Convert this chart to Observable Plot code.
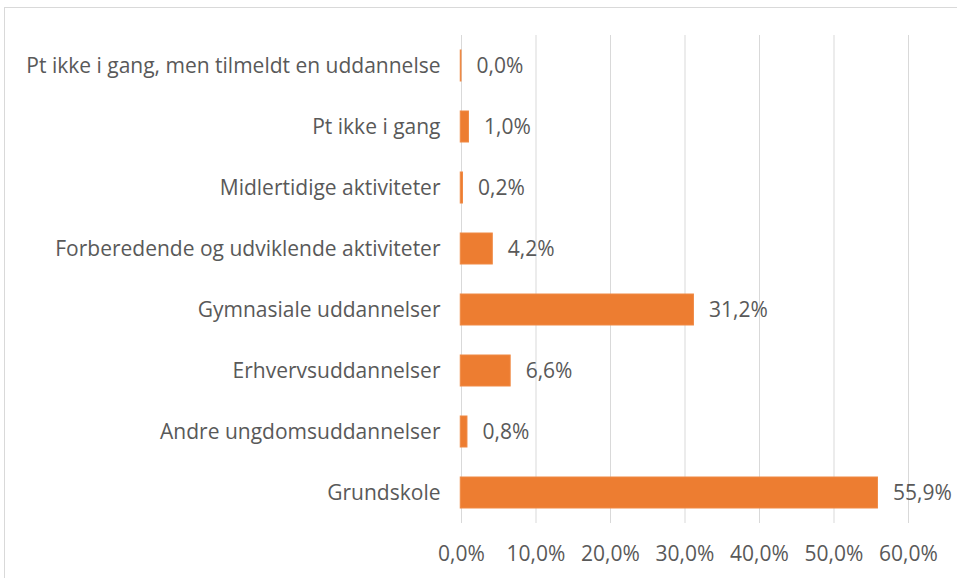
<!DOCTYPE html>
<html>
<head>
<meta charset="utf-8">
<script src="https://cdn.jsdelivr.net/npm/d3@7"></script>
<script src="https://cdn.jsdelivr.net/npm/@observablehq/plot@0.6"></script>
<style>
  html, body { margin: 0; padding: 0; background: #fff; }
  #wrap { position: relative; width: 957px; height: 578px; overflow: hidden; }
  #frame { position: absolute; left: 4px; top: 7px; width: 960px; height: 600px;
           border-top: 1px solid #d9d9d9; border-left: 1px solid #d9d9d9; }
  #chart { position: absolute; left: 0; top: 0; }
</style>
</head>
<body>
<div id="wrap"><div id="frame"></div><div id="chart"></div></div>
<script>
const categories = [
  "Pt ikke i gang, men tilmeldt en uddannelse",
  "Pt ikke i gang",
  "Midlertidige aktiviteter",
  "Forberedende og udviklende aktiviteter",
  "Gymnasiale uddannelser",
  "Erhvervsuddannelser",
  "Andre ungdomsuddannelser",
  "Grundskole"
];
const values = [0.0, 1.0, 0.2, 4.2, 31.2, 6.6, 0.8, 55.9];
const xTicks = [0, 10, 20, 30, 40, 50, 60];

const data = categories.map((c, i) => ({category: c, value: values[i]}));
const fmt = v => v.toFixed(1).replace(".", ",") + "%";

const chart = Plot.plot({
  width: 957,
  height: 578,
  marginLeft: 461,
  marginRight: 49,
  marginTop: 35,
  marginBottom: 55,
  style: {fontFamily: "'Open Sans', sans-serif", fontSize: "21px", color: "#595959", background: "transparent"},
  x: {domain: [0, 60], ticks: xTicks, tickFormat: fmt, label: null, tickSize: 0, tickPadding: 23},
  y: {domain: categories, label: null, tickSize: 0, tickPadding: 21, paddingInner: 0.5, paddingOuter: 0.25},
  marks: [
    Plot.gridX(xTicks, {stroke: "#d9d9d9", strokeOpacity: 1}),
    Plot.barX(data, {x: "value", y: "category", fill: "#ED7D31", stroke: "#F08A45", strokeWidth: 1, insetLeft: -0.75}),
    Plot.text(data, {x: "value", y: "category", text: d => fmt(d.value), dx: 15, textAnchor: "start", fill: "#595959", fontSize: 21})
  ]
});
document.getElementById("chart").appendChild(chart);
</script>
</body>
</html>
